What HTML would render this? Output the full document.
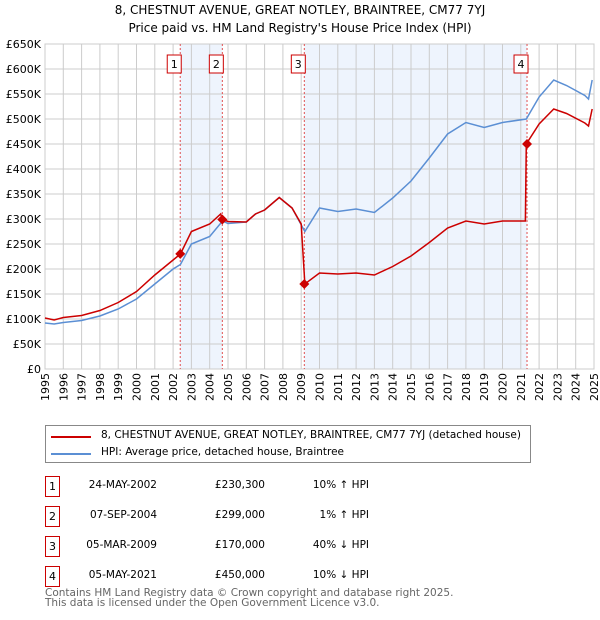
<!DOCTYPE html>
<html><head><meta charset="utf-8"><style>
body{margin:0;width:600px;height:620px;background:#fff;font-family:"DejaVu Sans","Liberation Sans",sans-serif;position:relative;overflow:hidden}
.t{position:absolute;white-space:nowrap;color:#000}
.box{position:absolute;width:13px;height:19px;border:1px solid #c00;font-size:11px;text-align:center;line-height:19px}
</style></head><body>
<div class="t" style="left:0;width:600px;text-align:center;top:3px;font-size:12px">8, CHESTNUT AVENUE, GREAT NOTLEY, BRAINTREE, CM77 7YJ</div>
<div class="t" style="left:0;width:600px;text-align:center;top:21px;font-size:12px">Price paid vs. HM Land Registry's House Price Index (HPI)</div>
<svg id="chart" width="600" height="420" style="position:absolute;left:0;top:0" font-family="DejaVu Sans, Liberation Sans, sans-serif"></svg>

<div style="position:absolute;left:45px;top:425px;width:484px;height:36px;border:1px solid #888">
<div style="position:absolute;left:5px;top:10px;width:40px;height:2px;background:#c00"></div>
<div class="t" style="left:55px;top:3px;font-size:10.5px">8, CHESTNUT AVENUE, GREAT NOTLEY, BRAINTREE, CM77 7YJ (detached house)</div>
<div style="position:absolute;left:5px;top:27px;width:40px;height:2px;background:#5b8fd4"></div>
<div class="t" style="left:55px;top:20px;font-size:10.5px">HPI: Average price, detached house, Braintree</div>
</div>
<div id="tbl"></div>
<div class="t" style="left:45px;top:588px;font-size:10.5px;color:#666;line-height:10px">Contains HM Land Registry data © Crown copyright and database right 2025.<br>This data is licensed under the Open Government Licence v3.0.</div>

<script>
const hpiYears=[1995,1995.5,1996,1997,1998,1999,2000,2001,2002,2002.4,2003,2004,2004.7,2005,2006,2006.5,2007,2007.8,2008.5,2009.2,2010,2011,2012,2013,2014,2015,2016,2017,2018,2019,2020,2021.3,2022,2022.8,2023.5,2024.5,2024.7,2024.9];
const hpiValues=[92,90,93,97,106,120,140,170,200,209,250,265,296,291,294,310,318,343,322,275,322,315,320,313,342,376,422,470,493,483,493,500,544,578,567,547,540,578];
const priceYears=[1995,1995.5,1996,1997,1998,1999,2000,2001,2002,2002.4,2003,2004,2004.6,2004.7,2005,2006,2006.5,2007,2007.8,2008.5,2009.0,2009.2,2010,2011,2012,2013,2014,2015,2016,2017,2018,2019,2020,2021.25,2021.3,2022,2022.8,2023.5,2024.5,2024.7,2024.9];
const priceValues=[102,98,103,107,117,133,155,188,218,230,275,290,310,299,295,294,310,318,343,322,290,170,192,190,192,188,205,226,253,282,296,290,296,296,450,490,520,511,492,486,520];
const saleYears=[2002.39,2004.69,2009.17,2021.34];
const saleValues=[230.3,299,170,450];
const saleLabels=["1","2","3","4"];
const saleDates=["24-MAY-2002","07-SEP-2004","05-MAR-2009","05-MAY-2021"];
const salePrices=["£230,300","£299,000","£170,000","£450,000"];
const saleHpi=["10% ↑ HPI","1% ↑ HPI","40% ↓ HPI","10% ↓ HPI"];
const yTicks=[0,50,100,150,200,250,300,350,400,450,500,550,600,650];
const yTickLabels=["£0","£50K","£100K","£150K","£200K","£250K","£300K","£350K","£400K","£450K","£500K","£550K","£600K","£650K"];
const xTicks=[1995,1996,1997,1998,1999,2000,2001,2002,2003,2004,2005,2006,2007,2008,2009,2010,2011,2012,2013,2014,2015,2016,2017,2018,2019,2020,2021,2022,2023,2024,2025];

const X0=45,X1=594,Y0=369,Y1=44;
const x=v=>X0+(v-1995)/30*(X1-X0);
const y=v=>Y0-v/650*(Y0-Y1);
const svg=document.getElementById('chart');
const NS='http://www.w3.org/2000/svg';
function mk(tag,attrs,parent){const e=document.createElementNS(NS,tag);for(const k in attrs)e.setAttribute(k,attrs[k]);(parent||svg).appendChild(e);return e;}

for(let i=0;i<saleYears.length;i+=2){
  const r=mk('rect',{x:x(saleYears[i]),y:Y1,width:x(saleYears[i+1])-x(saleYears[i]),height:Y0-Y1,fill:'#eef4fd'});
  
  
}
xTicks.forEach((t,i)=>{
  const l=mk('line',{x1:x(t),x2:x(t),y1:Y1,y2:Y0,stroke:'#ccc','stroke-width':1});
  
  
  const px=x(t)+4,py=Y0+4;
  const tx=mk('text',{x:px,y:py,'text-anchor':'end','font-size':11,transform:`rotate(-90 ${px} ${py})`});
  
  
  tx.textContent=t;
});
yTicks.forEach((t,i)=>{
  const l=mk('line',{x1:X0,x2:X1,y1:y(t),y2:y(t),stroke:'#ccc','stroke-width':1});
  
  
  const tx=mk('text',{x:X0-4,y:y(t)+4,'text-anchor':'end','font-size':11});
  
  
  tx.textContent=yTickLabels[i];
});
const border=mk('rect',{x:X0,y:Y1,width:X1-X0,height:Y0-Y1,fill:'none',stroke:'#ccc'});


saleYears.forEach((s,i)=>{
  const l=mk('line',{x1:x(s),x2:x(s),y1:Y1,y2:Y0,stroke:'#e05050','stroke-width':1,'stroke-dasharray':'2,2'});
  
  
  const bx=x(s)-13;
  const r=mk('rect',{x:bx,y:55,width:14,height:18,fill:'#fff',stroke:'#c00'});
  
  
  const t=mk('text',{x:bx+7,y:68,'text-anchor':'middle','font-size':11});
  
  
  t.textContent=saleLabels[i];
});
const hp=mk('polyline',{points:hpiYears.map((d,i)=>x(d)+','+y(hpiValues[i])).join(' '),fill:'none',stroke:'#5b8fd4','stroke-width':1.5});


const pp=mk('polyline',{points:priceYears.map((d,i)=>x(d)+','+y(priceValues[i])).join(' '),fill:'none',stroke:'#c00','stroke-width':1.5});


saleYears.forEach((s,i)=>{
  const cx=x(s),cy=y(saleValues[i]);
  const p=mk('polygon',{points:`${cx},${cy-5} ${cx+5},${cy} ${cx},${cy+5} ${cx-5},${cy}`,fill:'#c00'});
  
  
});
const tbl=document.getElementById('tbl');
saleLabels.forEach((lab,i)=>{
  const top=476+i*30;
  const b=document.createElement('div');b.className='box';b.style.left='45px';b.style.top=top+'px';b.textContent=lab;
  
  
  tbl.appendChild(b);
  [[saleDates[i],157,'table-date'],[salePrices[i],265,'table-price'],[saleHpi[i],369,'table-hpi-diff']].forEach(c=>{
    const d=document.createElement('div');d.className='t';
    d.style.right=(600-c[1])+'px';d.style.top=(top+3)+'px';d.style.fontSize='10.5px';d.textContent=c[0];
    
    
    tbl.appendChild(d);
  });
});
</script>
</body></html>
